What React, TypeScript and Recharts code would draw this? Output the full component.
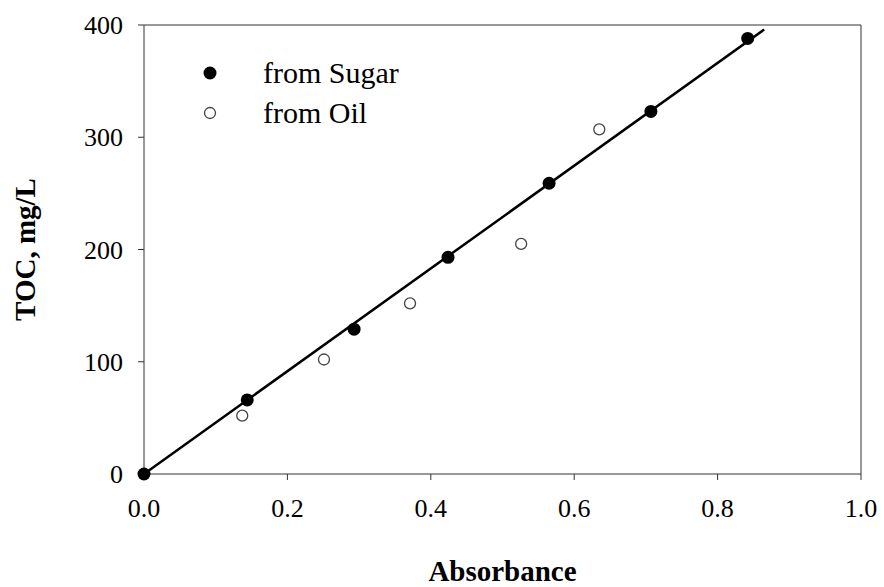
import { ScatterChart, Scatter, XAxis, YAxis, ReferenceLine, Legend } from "recharts";

const sugarAbs = [0, 0.144, 0.293, 0.424, 0.565, 0.707, 0.842];
const sugarToc = [0, 66, 129, 193, 259, 323, 388];
const oilAbs = [0.137, 0.251, 0.371, 0.526, 0.635];
const oilToc = [52, 102, 152, 205, 307];
const fitLine = [{ x: 0, y: 0 }, { x: 0.865, y: 396 }];
const xTicks = [0, 0.2, 0.4, 0.6, 0.8, 1.0];
const yTicks = [0, 100, 200, 300, 400];
const seriesNames = ["from Sugar", "from Oil"];

const sugar = sugarAbs.map((x, i) => ({ x, y: sugarToc[i] }));
const oil = oilAbs.map((x, i) => ({ x, y: oilToc[i] }));

const font = "'Liberation Serif', 'Times New Roman', serif";

const FilledDot = (p: any) => <circle cx={p.cx} cy={p.cy} r={6.5} fill="#000" />;
const OpenDot = (p: any) => (
  <circle cx={p.cx} cy={p.cy} r={5.5} fill="#fff" stroke="#444" strokeWidth={1.3} />
);

const YTitle = (p: any) => {
  const vb = p.viewBox || {};
  const cx = 25;
  const cy = (vb.y || 0) + (vb.height || 0) / 2;
  return (
    <text x={cx} y={cy} transform={`rotate(-90 ${cx} ${cy})`} textAnchor="middle"
      dominantBaseline="central" fontFamily={font} fontWeight="bold" fontSize={29} fill="#000">
      TOC, mg/L
    </text>
  );
};

const LegendBox = () => (
  <div style={{ fontFamily: font, fontSize: 30, color: "#000", lineHeight: "40px" }}>
    {seriesNames.map((n, i) => (
      <div key={n} style={{ display: "flex", alignItems: "center" }}>
        <svg width={30} height={20} style={{ marginRight: 38 }}>
          {i === 0 ? <circle cx={15} cy={10} r={6.5} fill="#000" />
            : <circle cx={15} cy={10} r={5.5} fill="#fff" stroke="#444" strokeWidth={1.3} />}
        </svg>
        <span>{n}</span>
      </div>
    ))}
  </div>
);

export default function App() {
  return (
    <div style={{ position: "absolute", left: 0, top: 0, background: "#fff" }}>
      <ScatterChart width={884} height={587} margin={{ top: 25, right: 23, left: 0, bottom: 0 }}>
        <XAxis type="number" dataKey="x" domain={[0, 1]} ticks={xTicks} height={113}
          tickFormatter={(v: number) => v.toFixed(1)} tickSize={6} tickMargin={19}
          stroke="#333" tick={{ fill: "#000", fontFamily: font, fontSize: 26 }}
          label={{ value: "Absorbance", position: "insideBottom", offset: 6, fill: "#000",
            fontFamily: font, fontWeight: "bold", fontSize: 29 }} />
        <YAxis type="number" dataKey="y" domain={[0, 400]} ticks={yTicks} width={144}
          tickSize={6} tickMargin={15} stroke="#333"
          tick={{ fill: "#000", fontFamily: font, fontSize: 26 }}
          label={<YTitle />} />
        <ReferenceLine y={400} stroke="#333" />
        <ReferenceLine x={1} stroke="#333" />
        <ReferenceLine segment={fitLine} stroke="#000" strokeWidth={2.5} />
        <Scatter name={seriesNames[0]} data={sugar} shape={FilledDot} isAnimationActive={false} />
        <Scatter name={seriesNames[1]} data={oil} shape={OpenDot} isAnimationActive={false} />
        <Legend content={<LegendBox />} layout="horizontal" verticalAlign="middle" align="center"
          wrapperStyle={{ left: 195, top: 53, width: 300 }} />
      </ScatterChart>
    </div>
  );
}
